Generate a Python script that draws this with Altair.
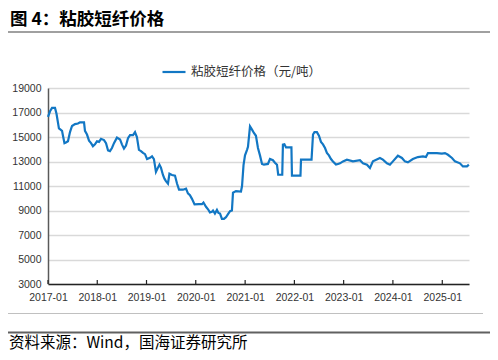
import altair as alt
import pandas as pd

dates = [
    "2017-01-01", "2017-01-16", "2017-01-31", "2017-02-22", "2017-03-05", "2017-03-23",
    "2017-04-04", "2017-04-15", "2017-04-22", "2017-05-03", "2017-05-14", "2017-05-29",
    "2017-06-13", "2017-06-28", "2017-07-20", "2017-08-11", "2017-08-26", "2017-09-25",
    "2017-10-02", "2017-10-17", "2017-11-01", "2017-11-16", "2017-11-30", "2017-12-15",
    "2017-12-30", "2018-01-14", "2018-01-29", "2018-02-20", "2018-03-07", "2018-03-22",
    "2018-04-05", "2018-04-20", "2018-05-05", "2018-05-27", "2018-06-19", "2018-07-03",
    "2018-07-18", "2018-08-02", "2018-08-17", "2018-09-01", "2018-09-23", "2018-10-08",
    "2018-10-22", "2018-11-06", "2018-11-21", "2018-12-06", "2018-12-21", "2019-01-05",
    "2019-01-27", "2019-02-11", "2019-02-25", "2019-03-12", "2019-03-27", "2019-04-07",
    "2019-04-18", "2019-05-03", "2019-05-14", "2019-05-25", "2019-06-09", "2019-06-20",
    "2019-07-09", "2019-07-31", "2019-08-15", "2019-08-30", "2019-09-28", "2019-10-21",
    "2019-11-04", "2019-11-19", "2019-12-04", "2019-12-23", "2020-01-25", "2020-02-16",
    "2020-02-27", "2020-03-17", "2020-04-01", "2020-04-15", "2020-04-30", "2020-05-08",
    "2020-05-22", "2020-06-06", "2020-06-17", "2020-06-29", "2020-07-13", "2020-07-28",
    "2020-08-12", "2020-08-27", "2020-09-11", "2020-09-25", "2020-10-03", "2020-10-25",
    "2020-12-01", "2020-12-09", "2020-12-20", "2020-12-31", "2021-01-15", "2021-01-22",
    "2021-02-06", "2021-02-21", "2021-03-07", "2021-03-22", "2021-04-06", "2021-04-21",
    "2021-05-06", "2021-05-20", "2021-06-19", "2021-07-04", "2021-07-26", "2021-08-10",
    "2021-08-25", "2021-09-03", "2021-10-03", "2021-10-08", "2021-10-19", "2021-10-31",
    "2021-12-10", "2021-12-14", "2022-02-15", "2022-02-19", "2022-05-08", "2022-05-19",
    "2022-05-30", "2022-06-17", "2022-07-02", "2022-07-17", "2022-08-01", "2022-08-16",
    "2022-08-30", "2022-09-14", "2022-09-29", "2022-10-14", "2022-11-05", "2022-11-20",
    "2022-12-05", "2022-12-27", "2023-01-25", "2023-03-11", "2023-05-02", "2023-05-24",
    "2023-06-23", "2023-07-15", "2023-08-06", "2023-09-27", "2023-10-19", "2023-11-18",
    "2023-12-10", "2024-01-01", "2024-02-07", "2024-03-08", "2024-03-30", "2024-04-21",
    "2024-05-28", "2024-07-04", "2024-08-11", "2024-09-02", "2024-09-17", "2024-11-22",
    "2024-12-29", "2025-01-21", "2025-02-12", "2025-03-14", "2025-04-05", "2025-05-12",
    "2025-06-03", "2025-07-03", "2025-07-17",
]
prices = [
    16650, 17100, 17370, 17370, 16900, 15700,
    15600, 15500, 15100, 14500, 14550, 14650,
    15400, 15900, 16050, 16100, 16200, 16200,
    15500, 15200, 14700, 14500, 14250, 14400,
    14650, 14600, 14850, 14750, 14500, 13900,
    13850, 14100, 14500, 14950, 14800, 14400,
    14050, 14300, 14900, 15150, 15150, 15400,
    15000, 13950, 13850, 13700, 13600, 13200,
    13300, 13420, 13200, 12150, 12500, 12740,
    12500, 11900, 11600, 11400, 11200, 12000,
    11900, 11850, 11200, 10700, 10700, 10780,
    10400, 10250, 9950, 9500, 9520, 9520,
    9650, 9300, 9100, 8850, 8900, 9000,
    8750, 9050, 8800, 8750, 8320, 8320,
    8450, 8700, 8950, 9000, 10450, 10580,
    10550, 11000, 12700, 13500, 13950, 14200,
    15870, 15600, 15330, 15100, 14100, 13500,
    12800, 12740, 12800, 13200, 13100, 12900,
    12740, 11920, 11920, 14370, 14400, 14150,
    14150, 11840, 11840, 13150, 13150, 15200,
    15400, 15400, 15100, 14600, 14400, 14100,
    13700, 13500, 13200, 13000, 12750, 12800,
    12850, 13010, 13150, 13010, 13100, 12850,
    12740, 12470, 13010, 13290, 13150, 12850,
    12740, 13010, 13470, 13290, 13010, 12930,
    13200, 13360, 13420, 13360, 13690, 13690,
    13640, 13690, 13550, 13290, 13010, 12850,
    12600, 12600, 12740,
]
series_name = "粘胶短纤价格（元/吨）"
tick_years = [2017, 2018, 2019, 2020, 2021, 2022, 2023, 2024, 2025]
y_ticks = [3000, 5000, 7000, 9000, 11000, 13000, 15000, 17000, 19000]
title_text = "图 4：粘胶短纤价格"
source_text = "资料来源：Wind，国海证券研究所"

W, H = 421, 196
CJK = "Noto Sans CJK SC"
LAT = "Liberation Sans"

df = pd.DataFrame({"date": dates, "price": prices, "series": series_name})

x_scale = alt.Scale(domain=[alt.DateTime(year=2017, month=1, date=1),
                            alt.DateTime(year=2025, month=7, date=18)], nice=False)
y_scale = alt.Scale(domain=[3000, 19000], nice=False)

line = alt.Chart(df).mark_line(strokeWidth=2.2, interpolate="linear").encode(
    x=alt.X("date:T", scale=x_scale, title=None,
            axis=alt.Axis(values=[alt.DateTime(year=y, month=1, date=1) for y in tick_years],
                          format="%Y-%m", labelFont=LAT, labelFontSize=10.5,
                          labelColor="#333333", labelPadding=8, ticks=False,
                          domainColor="#222222", domainWidth=1.5, grid=False,
                          labelFlush=False)),
    y=alt.Y("price:Q", scale=y_scale, title=None,
            axis=alt.Axis(values=y_ticks, format="d", labelFont=LAT, labelFontSize=10.5,
                          labelColor="#333333", labelPadding=7, ticks=False,
                          domainColor="#595959", domainWidth=1.5,
                          gridColor="#d9d9d9", gridWidth=1.5)),
    color=alt.Color("series:N", scale=alt.Scale(range=["#1277c4"]),
                    legend=alt.Legend(orient="none", legendX=113, legendY=-29, title=None,
                                      direction="horizontal", symbolType="stroke",
                                      symbolSize=529, symbolStrokeWidth=2.2, padding=0,
                                      labelFont=CJK, labelFontSize=12.5, labelColor="#333333",
                                      labelOffset=4)),
)

tick_df = pd.DataFrame({"d": [f"{y}-01-01" for y in tick_years]})
ticks = alt.Chart(tick_df).mark_rule(color="#222222", strokeWidth=1.2).encode(
    x=alt.X("d:T", scale=x_scale), y=alt.value(H), y2=alt.value(H - 4)
)

title = alt.Chart(pd.DataFrame({"t": [title_text]})).mark_text(
    align="left", baseline="top", font=CJK, fontSize=17.5, fontWeight="bold", color="#000000"
).encode(x=alt.value(-38), y=alt.value(-77), text="t:N")

src = alt.Chart(pd.DataFrame({"t": [source_text]})).mark_text(
    align="left", baseline="middle", font=CJK, fontSize=15.5, color="#000000"
).encode(x=alt.value(-39), y=alt.value(254.5), text="t:N")

line_top = alt.Chart(pd.DataFrame({"a": [0]})).mark_rule(color="#808080", strokeWidth=1.5).encode(
    x=alt.value(-40), x2=alt.value(447), y=alt.value(-56))
line_mid = alt.Chart(pd.DataFrame({"a": [0]})).mark_rule(color="#c0c0c0", strokeWidth=1).encode(
    x=alt.value(-40), x2=alt.value(435), y=alt.value(225.5))
line_bot = alt.Chart(pd.DataFrame({"a": [0]})).mark_rule(color="#606060", strokeWidth=1.8).encode(
    x=alt.value(-40), x2=alt.value(447), y=alt.value(244.5))

chart = alt.layer(line, ticks, title, src, line_top, line_mid, line_bot).properties(
    width=W, height=H,
    autosize=alt.AutoSizeParams(type="none"),
    padding={"left": 40, "top": 80, "right": 21, "bottom": 68},
    background="white",
).configure_view(stroke=None)

chart.save("out.html", embed_options={"renderer": "svg", "actions": False})
